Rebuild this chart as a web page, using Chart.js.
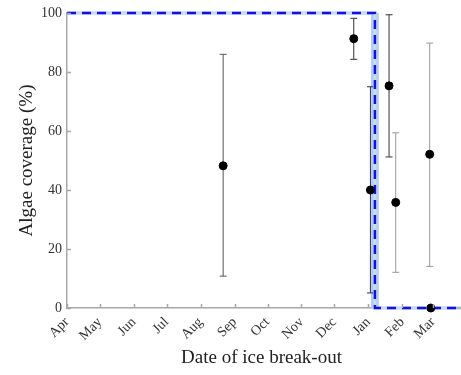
<!DOCTYPE html>
<html>
<head>
<meta charset="utf-8">
<script src="https://cdn.jsdelivr.net/npm/chart.js@4.4.0/dist/chart.umd.min.js"></script>
<style>
  html, body { margin: 0; padding: 0; background: #fff; }
</style>
</head>
<body>
<canvas id="algaeChart" width="461" height="375"></canvas>
<script>
// months on the x axis, as day offsets from 1 April
const monthLabels = ["Apr", "May", "Jun", "Jul", "Aug", "Sep", "Oct", "Nov", "Dec", "Jan", "Feb", "Mar"];
const monthStartDays = [0, 30, 61, 91, 122, 153, 183, 214, 244, 275, 306, 334];
const xMaxDay = 355;

// observations: break-out day, mean cover and error range
const breakoutDay = [142.5, 261.7, 276.9, 293.9, 300, 331, 332];
const coverage = [48.2, 91.3, 40, 75.3, 35.8, 52.1, 0];
const errLow = [10.8, 84.3, 5.1, 51.2, 12.1, 14.1, null];
const errHigh = [86, 98.2, 75, 99.4, 59.4, 89.8, null];

// step model: full cover before the threshold day, none after
const thresholdDay = 281;
const thresholdBand = [277.5, 284.5];
const coverBefore = 100;
const coverAfter = 0;

const yTicks = [0, 20, 40, 60, 80, 100];

const errColors = ["#555", "#333", "#333", "#333", "#999", "#999", null];
const serif = "'Liberation Serif', 'DejaVu Serif', serif";

const stepData = [
  { x: 0, y: coverBefore },
  { x: thresholdDay, y: coverBefore },
  { x: thresholdDay, y: coverAfter },
  { x: xMaxDay + 6, y: coverAfter },
];

const extras = {
  id: "extras",
  beforeDatasetsDraw(chart) {
    const { ctx, chartArea, scales: { x, y } } = chart;
    ctx.save();
    // uncertainty band round the threshold
    ctx.fillStyle = "#aecbf5";
    const x0 = x.getPixelForValue(thresholdBand[0]);
    const x1 = x.getPixelForValue(thresholdBand[1]);
    ctx.fillRect(x0, chartArea.top, x1 - x0, chartArea.bottom - chartArea.top);
    // error bars
    ctx.lineWidth = 1;
    breakoutDay.forEach((d, i) => {
      if (errLow[i] == null) return;
      const px = x.getPixelForValue(d);
      const lo = y.getPixelForValue(errLow[i]);
      const hi = y.getPixelForValue(errHigh[i]);
      ctx.strokeStyle = errColors[i];
      ctx.beginPath();
      ctx.moveTo(px, lo); ctx.lineTo(px, hi);
      ctx.moveTo(px - 3.5, lo); ctx.lineTo(px + 3.5, lo);
      ctx.moveTo(px - 3.5, hi); ctx.lineTo(px + 3.5, hi);
      ctx.stroke();
    });
    ctx.restore();
  },
  afterDraw(chart) {
    const { ctx, chartArea, scales: { x, y } } = chart;
    ctx.save();
    ctx.strokeStyle = "#999";
    ctx.lineWidth = 1;
    ctx.beginPath();
    // inward ticks
    monthStartDays.forEach(d => {
      const px = Math.round(x.getPixelForValue(d)) + 0.5;
      ctx.moveTo(px, chartArea.bottom);
      ctx.lineTo(px, chartArea.bottom - 4);
    });
    yTicks.forEach(v => {
      const py = Math.round(y.getPixelForValue(v)) + 0.5;
      ctx.moveTo(chartArea.left, py);
      ctx.lineTo(chartArea.left + 4, py);
    });
    // axis line carried to the edge
    ctx.strokeStyle = "#a8a8a8";
    ctx.lineWidth = 1.5;
    ctx.moveTo(chartArea.right, chartArea.bottom);
    ctx.lineTo(chart.width, chartArea.bottom);
    ctx.stroke();
    ctx.restore();
  }
};

new Chart(document.getElementById("algaeChart"), {
  type: "scatter",
  data: {
    datasets: [
      {
        label: "Observed",
        data: breakoutDay.map((d, i) => ({ x: d, y: coverage[i] })),
        backgroundColor: "#000",
        borderColor: "#000",
        pointRadius: 4,
        clip: false,
      },
      {
        type: "line",
        label: "Step model",
        data: stepData,
        borderColor: "#1010f0",
        borderWidth: 2.5,
        borderDash: [9, 6],
        pointRadius: 0,
        fill: false,
        clip: false,
      },
      {
        type: "line",
        label: "Step halo",
        data: stepData,
        borderColor: "#c8daf5",
        borderWidth: 3.5,
        pointRadius: 0,
        fill: false,
        clip: false,
      },
    ],
  },
  options: {
    responsive: false,
    animation: false,
    layout: { padding: { top: 13, right: 0, left: 0, bottom: 0 } },
    plugins: {
      legend: { display: false },
      tooltip: { enabled: false },
    },
    scales: {
      x: {
        type: "linear",
        min: 0,
        max: xMaxDay,
        grid: { display: false, drawTicks: false },
        border: { display: true, color: "#a8a8a8", width: 1.5 },
        afterBuildTicks: (scale) => {
          scale.ticks = monthStartDays.map(v => ({ value: v }));
        },
        afterFit: (scale) => {
          scale.height = 67;
          scale.paddingLeft = 0;
          scale.paddingRight = 0;
        },
        ticks: {
          autoSkip: false,
          minRotation: 45,
          maxRotation: 45,
          padding: 6,
          color: "#333",
          font: { family: serif, size: 14 },
          callback: (value) => monthLabels[monthStartDays.indexOf(value)],
        },
        title: {
          display: true,
          text: "Date of ice break-out",
          color: "#222",
          padding: { top: 0, bottom: 6 },
          font: { family: serif, size: 19 },
        },
      },
      y: {
        min: 0,
        max: 100,
        grid: { display: false, drawTicks: false },
        border: { display: true, color: "#a8a8a8", width: 1.5 },
        afterBuildTicks: (scale) => {
          scale.ticks = yTicks.map(v => ({ value: v }));
        },
        afterFit: (scale) => {
          scale.width = 67;
          scale.paddingTop = 0;
          scale.paddingBottom = 0;
        },
        ticks: {
          padding: 5,
          color: "#333",
          font: { family: serif, size: 14 },
        },
        title: {
          display: true,
          text: "Algae coverage (%)",
          color: "#222",
          padding: { top: 16, bottom: 0 },
          font: { family: serif, size: 19 },
        },
      },
    },
  },
  plugins: [extras],
});
</script>
</body>
</html>
